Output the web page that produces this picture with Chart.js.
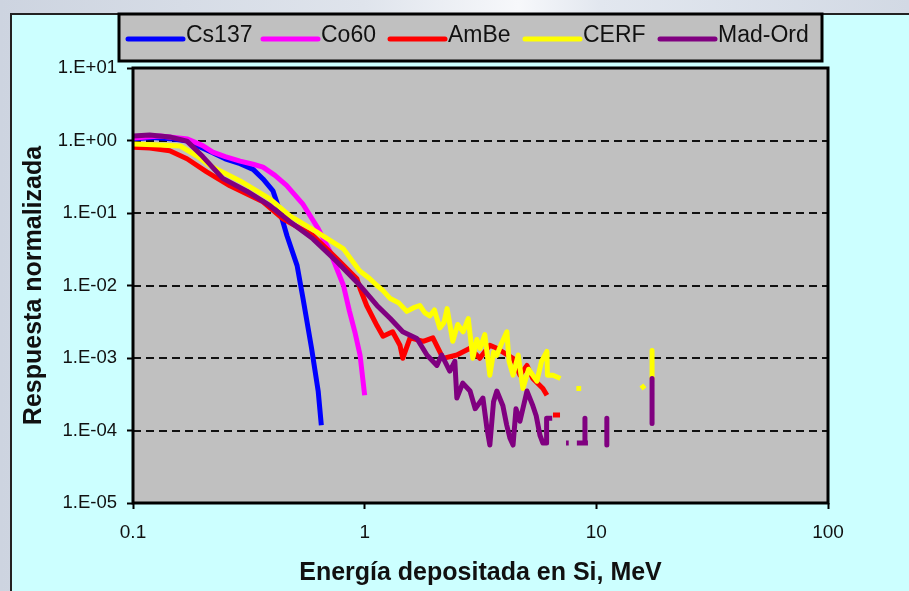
<!DOCTYPE html>
<html lang="es">
<head>
<meta charset="UTF-8">
<title>Respuesta normalizada</title>
<script src="https://cdn.jsdelivr.net/npm/chart.js"></script>
<style>
  html, body { margin: 0; width: 909px; height: 591px; overflow: hidden; }
  body {
    background: linear-gradient(90deg, #cdd4e0 0%, #dfe4ec 40%, #f7f8fb 57%, #e2e7ef 66%, #d2d9e4 100%);
    position: relative;
  }
  #panel {
    position: absolute; left: 10px; top: 13px; right: 0; bottom: 0;
    background: #ccffff;
    border-left: 2px solid #222; border-top: 2px solid #222;
  }
  #chart { position: absolute; left: 0; top: 0; }
</style>
</head>
<body>
<div id="panel"></div>
<canvas id="chart" width="909" height="591"></canvas>
<script>
// energies (MeV) and normalized response per source, null = gap in the curve
const cs137E = [0.1, 0.12, 0.15, 0.172, 0.2, 0.221, 0.25, 0.29, 0.33, 0.364, 0.402, 0.431, 0.462, 0.511, 0.542, 0.59, 0.63, 0.65];
const cs137R = [1.05, 1.1, 1.05, 0.98, 0.78, 0.68, 0.56, 0.48, 0.40, 0.295, 0.202, 0.104, 0.0486, 0.0188, 0.0066, 0.00136, 0.00035, 0.000118];

const co60E = [0.1, 0.131, 0.172, 0.2, 0.221, 0.25, 0.29, 0.33, 0.364, 0.41, 0.46, 0.54, 0.63, 0.71, 0.81, 0.86, 0.91, 0.955, 1.0];
const co60R = [1.08, 1.15, 1.05, 0.85, 0.69, 0.6, 0.52, 0.47, 0.43, 0.33, 0.24, 0.134, 0.061, 0.029, 0.01, 0.0044, 0.0022, 0.0011, 0.000306];

const ambeE = [0.1, 0.118, 0.144, 0.171, 0.208, 0.262, 0.364, 0.444, 0.598, 0.759, 0.926, 0.955, 1.02, 1.13, 1.2, 1.32, 1.42, 1.46, 1.57, 1.79, 1.97, 2.18, 2.5, 2.85, 3.14, 3.47, 3.72, 4.37, 4.68, 5.02, 5.32, 5.88, 6.12, 6.3, 6.5, 6.97];
const ambeR = [0.81, 0.79, 0.72, 0.56, 0.37, 0.237, 0.143, 0.083, 0.049, 0.0234, 0.0124, 0.0091, 0.0053, 0.0028, 0.002, 0.0023, 0.0015, 0.00099, 0.0019, 0.0017, 0.0019, 0.00099, 0.0011, 0.00136, 0.00099, 0.0015, 0.00136, 0.00099, 0.00058, 0.00079, 0.00052, 0.00038, 0.000306, null, 0.000163, 0.000163];

const cerfE = [0.1, 0.131, 0.16, 0.189, 0.215, 0.29, 0.39, 0.476, 0.62, 0.81,
  0.95, 1.05, 1.13, 1.2, 1.29, 1.4, 1.52, 1.62, 1.73, 1.82,
  1.91, 2.0, 2.11, 2.2, 2.27, 2.4, 2.52, 2.66, 2.8, 2.93,
  3.05, 3.15, 3.3, 3.47, 3.6, 3.72, 3.9, 4.11, 4.2, 4.37,
  4.6, 4.82, 5.1, 5.54, 5.8, 6.12, 6.15, 6.5, 7.0, 7.6,
  8.2, 8.6, 12, 15.6, 16.2, 17.0, 17.4, 17.4];
const cerfR = [0.895, 0.87, 0.84, 0.61, 0.45, 0.277, 0.157, 0.091, 0.055, 0.032,
  0.016, 0.0125, 0.01, 0.0085, 0.0066, 0.0058, 0.0044, 0.0049, 0.0053, 0.0042,
  0.0038, 0.0046, 0.0026, 0.0031, 0.0048, 0.0017, 0.0029, 0.0023, 0.0035, 0.00099,
  0.0018, 0.00136, 0.0021, 0.00058, 0.0012, 0.00109, 0.0016, 0.0023, 0.0009, 0.00058,
  0.0011, 0.00038, 0.0007, 0.00048, 0.0009, 0.00123, 0.00058, 0.00058, 0.00052, null,
  0.00038, 0.00038, null, 0.00038, 0.00042, null, 0.00127, 0.00052];

const madE = [0.1, 0.118, 0.144, 0.171, 0.2, 0.244, 0.31, 0.39, 0.476, 0.598,
  0.759, 0.955, 1.13, 1.29, 1.46, 1.68, 1.86, 2.05, 2.15, 2.33,
  2.45, 2.5, 2.65, 2.85, 3.0, 3.24, 3.37, 3.47, 3.6, 3.72,
  3.95, 4.1, 4.24, 4.37, 4.5, 4.68, 5.02, 5.32, 5.5, 5.71,
  5.88, 6.1, 6.1, 6.45, 7.2, 7.4, 7.6, 7.9, 8.24, 8.93,
  8.93, 8.93, 9.2, 10.5, 11.1, 11.1, 16.5, 17.4, 17.4];
const madR = [1.15, 1.19, 1.12, 0.98, 0.6, 0.3, 0.2, 0.126, 0.076, 0.044,
  0.0213, 0.01, 0.0053, 0.0035, 0.0023, 0.00186, 0.00109, 0.00079, 0.0011, 0.00066,
  0.0009, 0.00028, 0.00045, 0.00035, 0.0002, 0.00028, 0.000108, 0.000063, 0.00025, 0.00035,
  0.00022, 0.00012, 0.000078, 0.000063, 0.0002, 0.000134, 0.00035, 0.00022, 0.00016, 0.000086,
  0.000067, 0.000067, 0.000148, 0.000148, null, 0.000067, 0.000067, null, 0.000067, 0.000067,
  0.000148, 0.000067, 0.000067, null, 0.000148, 0.000063, null, 0.00052, 0.000125];

const seriesNames = ['Cs137', 'Co60', 'AmBe', 'CERF', 'Mad-Ord'];
const seriesColors = ['#0000ff', '#ff00ff', '#ff0000', '#ffff00', '#800080'];

const xTicks = [0.1, 1, 10, 100];
const xTickLabels = ['0.1', '1', '10', '100'];
const yTicks = [10, 1, 0.1, 0.01, 0.001, 0.0001, 0.00001];
const yTickLabels = ['1.E+01', '1.E+00', '1.E-01', '1.E-02', '1.E-03', '1.E-04', '1.E-05'];

const FONT = "'Liberation Sans', Arial, sans-serif";
const legendX = [128, 263, 390, 525, 660];   // left end of each legend sample line

function pts(xs, ys) {
  return xs.map((x, i) => ({ x: x, y: ys[i] }));
}

const allData = [pts(cs137E, cs137R), pts(co60E, co60R), pts(ambeE, ambeR), pts(cerfE, cerfR), pts(madE, madR)];

const datasets = seriesNames.map((name, i) => ({
  label: name,
  data: allData[i],
  borderColor: seriesColors[i],
  backgroundColor: seriesColors[i],
  borderWidth: 5,
  pointRadius: 0,
  tension: 0,
  spanGaps: false,
  borderJoinStyle: 'round',
  order: seriesNames.length - i   // later series on top, like the original
}));

// grey plot area + black frame + boxed legend
const decor = {
  id: 'decor',
  beforeDatasetsDraw(chart) {
    const a = chart.chartArea, ctx = chart.ctx;
    ctx.save();
    ctx.fillStyle = '#c0c0c0';
    ctx.fillRect(a.left, a.top, a.right - a.left, a.bottom - a.top);
    const y = chart.scales.y;
    ctx.strokeStyle = '#111';
    ctx.lineWidth = 2;
    ctx.setLineDash([8, 5]);
    yTicks.slice(1, -1).forEach(v => {
      const py = Math.round(y.getPixelForValue(v));
      ctx.beginPath();
      ctx.moveTo(a.left, py);
      ctx.lineTo(a.right, py);
      ctx.stroke();
    });
    ctx.restore();
  },
  afterDatasetsDraw(chart) {
    const a = chart.chartArea, ctx = chart.ctx;
    ctx.save();
    ctx.strokeStyle = '#000';
    ctx.lineWidth = 3;
    ctx.strokeRect(a.left, a.top, a.right - a.left, a.bottom - a.top);

    // legend box
    const bx = 119, by = 14, bw = 703, bh = 47;
    ctx.fillStyle = '#c0c0c0';
    ctx.fillRect(bx, by, bw, bh);
    ctx.lineWidth = 3;
    ctx.strokeRect(bx, by, bw, bh);
    ctx.font = '23px ' + FONT;
    ctx.textBaseline = 'middle';
    seriesNames.forEach((name, i) => {
      const x = legendX[i];
      ctx.strokeStyle = seriesColors[i];
      ctx.lineWidth = 5;
      ctx.lineCap = 'round';
      ctx.beginPath();
      ctx.moveTo(x, 39);
      ctx.lineTo(x + 55, 39);
      ctx.stroke();
      ctx.fillStyle = '#111';
      ctx.fillText(name, x + 58, 36);
    });
    ctx.restore();
  }
};

new Chart(document.getElementById('chart'), {
  type: 'line',
  data: { datasets: datasets },
  options: {
    responsive: false,
    animation: false,
    devicePixelRatio: 1,
    layout: { padding: { left: 0, top: 68, right: 81, bottom: 0 } },
    plugins: { legend: { display: false }, tooltip: { enabled: false } },
    scales: {
      x: {
        type: 'logarithmic',
        position: 'bottom',
        min: 0.1,
        max: 100,
        afterBuildTicks: s => { s.ticks = xTicks.map(v => ({ value: v })); },
        afterFit: s => { s.height = 88; },
        ticks: {
          autoSkip: false,
          maxRotation: 0,
          minRotation: 0,
          padding: 12,
          color: '#111',
          font: { family: FONT, size: 19 },
          callback: (v, i) => xTickLabels[i]
        },
        grid: { drawOnChartArea: false, drawTicks: true, tickLength: 6, tickWidth: 2, tickColor: '#000' },
        border: { display: false },
        title: {
          display: true,
          text: 'Energía depositada en Si, MeV',
          color: '#111',
          font: { family: FONT, size: 25, weight: 'bold' },
          padding: { top: 0, bottom: 3 }
        }
      },
      y: {
        type: 'logarithmic',
        position: 'left',
        min: 0.00001,
        max: 10,
        afterBuildTicks: s => { s.ticks = yTicks.map(v => ({ value: v })); },
        afterFit: s => { s.width = 133; },
        ticks: {
          autoSkip: false,
          padding: 10,
          color: '#111',
          font: { family: FONT, size: 18.5 },
          callback: (v, i) => yTickLabels[i]
        },
        grid: { drawOnChartArea: false, drawTicks: true, tickLength: 6, tickWidth: 2, tickColor: '#000' },
        border: { display: false },
        title: {
          display: true,
          text: 'Respuesta normalizada',
          color: '#111',
          font: { family: FONT, size: 25, weight: 'bold' },
          padding: { top: 19, bottom: 0 }
        }
      }
    }
  },
  plugins: [decor]
});
</script>
</body>
</html>
